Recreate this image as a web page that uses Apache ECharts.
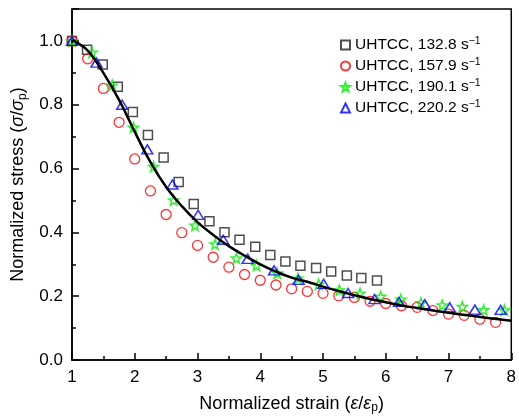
<!DOCTYPE html>
<html>
<head>
<meta charset="utf-8">
<script src="https://cdn.jsdelivr.net/npm/echarts@6/dist/echarts.min.js"></script>
<style>
html,body{margin:0;padding:0;background:#fff;}
#chart{width:519px;height:419px;}
</style>
</head>
<body>
<div id="chart"></div>
<script>
// ---- data ----
var seriesNames = ['UHTCC, 132.8', 'UHTCC, 157.9', 'UHTCC, 190.1', 'UHTCC, 220.2'];

var squareX = [1.0,1.24,1.49,1.73,1.97,2.21,2.46,2.70,2.94,3.19,3.43,3.67,3.92,4.16,4.40,4.64,4.89,5.13,5.38,5.61,5.86];
var squareY = [1.0,0.972,0.926,0.856,0.777,0.705,0.635,0.558,0.489,0.435,0.400,0.377,0.355,0.329,0.309,0.295,0.288,0.277,0.265,0.257,0.249];

var circleX = [1.0,1.25,1.5,1.75,2.0,2.25,2.5,2.75,3.0,3.25,3.5,3.75,4.0,4.25,4.5,4.75,5.0,5.25,5.5,5.75,6.0,6.25,6.5,6.75,7.0,7.25,7.5,7.75];
var circleY = [1.0,0.944,0.851,0.745,0.630,0.530,0.456,0.399,0.359,0.322,0.291,0.268,0.250,0.235,0.223,0.215,0.209,0.201,0.196,0.184,0.177,0.170,0.165,0.155,0.144,0.140,0.128,0.118];

var starX = [1.0,1.32,1.64,1.98,2.30,2.62,2.96,3.28,3.62,3.94,4.27,4.60,4.93,5.26,5.59,5.92,6.24,6.56,6.90,7.22,7.56,7.89];
var starY = [1.0,0.964,0.861,0.729,0.606,0.501,0.422,0.363,0.319,0.296,0.272,0.256,0.237,0.219,0.209,0.199,0.190,0.179,0.172,0.167,0.157,0.156];

var triX = [1.0,1.39,1.80,2.20,2.60,3.01,3.41,3.80,4.22,4.61,5.01,5.40,5.82,6.21,6.62,7.02,7.42,7.83];
var triY = [1.0,0.932,0.800,0.660,0.550,0.455,0.377,0.317,0.281,0.251,0.239,0.210,0.191,0.182,0.175,0.165,0.158,0.157];

var fitX = [1.0,1.05,1.25,1.5,1.75,2.0,2.25,2.5,2.75,3.0,3.25,3.5,3.75,4.0,4.25,4.5,4.75,5.0,5.25,5.5,5.75,6.0,6.25,6.5,7.0,7.5,8.0];
var fitY = [1.0,0.998,0.970,0.900,0.815,0.715,0.620,0.542,0.482,0.432,0.392,0.357,0.327,0.300,0.277,0.258,0.245,0.230,0.216,0.203,0.191,0.181,0.171,0.163,0.148,0.135,0.123];

var xTicks = [1,2,3,4,5,6,7,8];
var yTicks = [0.0,0.2,0.4,0.6,0.8,1.0];

function pairs(xs, ys){ return xs.map(function(x,i){ return [x, ys[i]]; }); }

var starPath = 'path://M50 0 L61.76 33.82 L97.55 34.55 L69.02 56.18 L79.39 90.45 L50 70 L20.61 90.45 L30.98 56.18 L2.45 34.55 L38.24 33.82 Z';
var FONT = '"Liberation Sans", Arial, sans-serif';

var chart = echarts.init(document.getElementById('chart'), null, {renderer:'canvas'});

function hollow(color, w){ return {color:'rgba(0,0,0,0)', borderColor:color, borderWidth:w}; }

var option = {
  animation:false,
  backgroundColor:'#fff',
  textStyle:{fontFamily:FONT, color:'#000'},
  grid:{left:72, right:5, top:9, bottom:54, show:true, borderColor:'#000', borderWidth:1.5, backgroundColor:'rgba(0,0,0,0)'},
  legend:{
    orient:'vertical', left:335, top:31,
    itemWidth:9, itemHeight:9, itemGap:3,
    textStyle:{fontFamily:FONT, fontSize:15.5, color:'#000', lineHeight:18,
      rich:{sup:{fontFamily:FONT, fontSize:10.5, verticalAlign:'top', lineHeight:18, color:'#000'}}},
    formatter:function(n){ return n + ' s{sup|\u22121}'; },
    data:seriesNames
  },
  xAxis:{
    type:'value', min:1, max:8, interval:1,
    name:'Normalized strain ({i|\u03b5}/{i|\u03b5}{sub|p})', nameLocation:'middle', nameGap:34,
    nameTextStyle:{fontFamily:FONT, fontSize:18, color:'#000', lineHeight:20,
      rich:{i:{fontFamily:FONT, fontSize:18, fontStyle:'italic', color:'#000', lineHeight:20},
            sub:{fontFamily:FONT, fontSize:12, verticalAlign:'bottom', color:'#000', lineHeight:20}}},
    axisLine:{show:true, lineStyle:{color:'#000', width:1.5}},
    axisTick:{show:true, inside:true, length:7, lineStyle:{color:'#000', width:1.5}},
    minorTick:{show:true, splitNumber:2, length:4, lineStyle:{color:'#000', width:1.5}},
    axisLabel:{fontFamily:FONT, fontSize:17, color:'#000', margin:9,
      formatter:function(v){ return xTicks.indexOf(v) >= 0 ? String(v) : ''; }},
    splitLine:{show:false}
  },
  yAxis:[{
    type:'value', min:0, max:1.1, interval:0.2,
    name:'Normalized stress ({i|\u03c3}/{i|\u03c3}{sub|p})', nameLocation:'middle', nameGap:39, nameRotate:90,
    nameTextStyle:{fontFamily:FONT, fontSize:18, color:'#000', lineHeight:20,
      rich:{i:{fontFamily:FONT, fontSize:18, fontStyle:'italic', color:'#000', lineHeight:20},
            sub:{fontFamily:FONT, fontSize:12, verticalAlign:'bottom', color:'#000', lineHeight:20}}},
    axisLine:{show:true, lineStyle:{color:'#000', width:1.5}},
    axisTick:{show:true, inside:true, length:7, lineStyle:{color:'#000', width:1.5}},
    axisLabel:{fontFamily:FONT, fontSize:17, color:'#000', margin:9,
      formatter:function(v){
        for (var i=0;i<yTicks.length;i++){ if (Math.abs(yTicks[i]-v) < 1e-6) return yTicks[i].toFixed(1); }
        return '';
      }},
    splitLine:{show:false}
  },{
    type:'value', min:0, max:1.1, interval:0.1, position:'left',
    axisLine:{show:false}, axisLabel:{show:false}, splitLine:{show:false},
    axisTick:{show:true, inside:true, length:4, lineStyle:{color:'#000', width:1.5}}
  }],
  series:[
    {name:seriesNames[0], type:'scatter', symbol:'rect', symbolSize:9, data:pairs(squareX, squareY),
     itemStyle:hollow('#222', 1.5), z:3},
    {name:seriesNames[1], type:'scatter', symbol:'circle', symbolSize:10, data:pairs(circleX, circleY),
     itemStyle:hollow('#ff0000', 1.3), z:3},
    {name:seriesNames[2], type:'scatter', symbol:starPath, symbolSize:10, data:pairs(starX, starY),
     itemStyle:hollow('#00ee00', 1.5), z:3},
    {name:seriesNames[3], type:'scatter', symbol:'triangle', symbolSize:[11,9], data:pairs(triX, triY),
     itemStyle:hollow('#0000ff', 1.5), z:4},
    {name:'fit', type:'line', smooth:0.4, symbol:'none', data:pairs(fitX, fitY),
     lineStyle:{color:'#000', width:2.5}, z:5}
  ]
};
chart.setOption(option);
</script>
</body>
</html>
